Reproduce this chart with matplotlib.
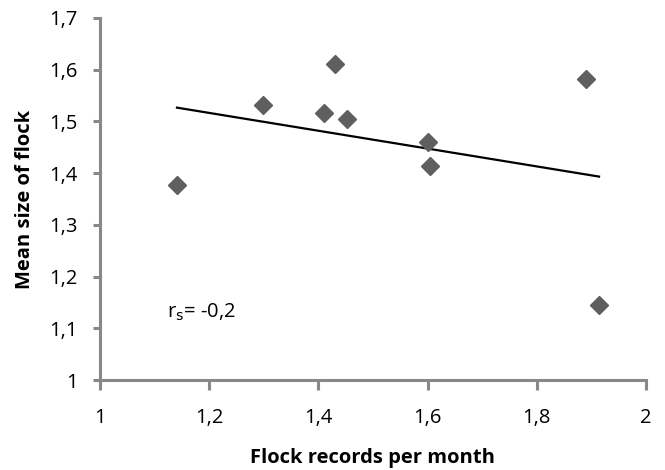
import numpy as np
import matplotlib
matplotlib.use("Agg")
import matplotlib.pyplot as plt
from matplotlib.ticker import FuncFormatter

# Data
flock_records = [1.141, 1.299, 1.430, 1.410, 1.452, 1.600, 1.604, 1.891, 1.914]
mean_size = [1.378, 1.531, 1.611, 1.516, 1.505, 1.460, 1.413, 1.582, 1.145]
x_ticks = [1.0, 1.2, 1.4, 1.6, 1.8, 2.0]
y_ticks = [1.0, 1.1, 1.2, 1.3, 1.4, 1.5, 1.6, 1.7]

plt.rcParams['font.family'] = ['Open Sans', 'DejaVu Sans']

fig = plt.figure(figsize=(6.65, 4.70), dpi=100)
# plot area: x 100..646 px, y 18..380 px
ax = fig.add_axes([100 / 665, 1 - 380 / 470, 546 / 665, 362 / 470])

ax.plot(flock_records, mean_size, linestyle='none', marker='D', ms=9,
        color='#5f5f5f', mec='#5f5f5f', zorder=3)

slope, intercept = np.polyfit(flock_records, mean_size, 1)
xl = np.array([min(flock_records), max(flock_records)])
ax.plot(xl, slope * xl + intercept, color='black', lw=1.6, zorder=2)

ax.set_xlim(1.0, 2.0)
ax.set_ylim(1.0, 1.7)
ax.set_xticks(x_ticks)
ax.set_yticks(y_ticks)

def comma(v, pos):
    s = f"{v:.1f}".rstrip('0').rstrip('.')
    return s.replace('.', ',')

ax.xaxis.set_major_formatter(FuncFormatter(comma))
ax.yaxis.set_major_formatter(FuncFormatter(comma))

for s in ['top', 'right']:
    ax.spines[s].set_visible(False)
for s in ['left', 'bottom']:
    ax.spines[s].set_color('#888888')
    ax.spines[s].set_linewidth(2.2)

ax.tick_params(axis='both', colors='#888888', width=2.2, labelsize=14.5,
               labelcolor='black')
ax.tick_params(axis='x', length=7, pad=13)
ax.tick_params(axis='y', length=5, pad=11)

ax.set_xlabel('Flock records per month', fontsize=14.5, fontweight='bold')
ax.set_ylabel('Mean size of flock', fontsize=14.5, fontweight='bold')
ax.xaxis.set_label_coords(0.5, (380 - 458) / 362)
ax.xaxis.label.set_va('center')
ax.yaxis.set_label_coords((25 - 100) / 546, 0.5)
ax.yaxis.label.set_va('center')

ax.text(1.123, 1.1315, r'r$_\mathrm{s}$= -0,2', fontsize=14.5, va='center')

fig.savefig('out.png', dpi=100)
